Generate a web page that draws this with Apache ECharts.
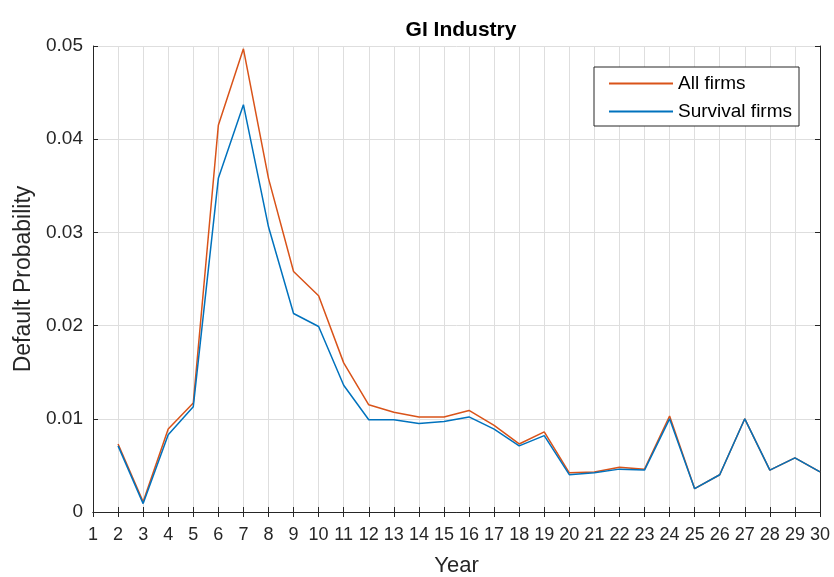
<!DOCTYPE html>
<html>
<head>
<meta charset="utf-8">
<script src="https://cdn.jsdelivr.net/npm/echarts@6/dist/echarts.min.js"></script>
<style>
html,body{margin:0;padding:0;background:#fff;}
#chart{width:834px;height:577px;}
</style>
</head>
<body>
<div id="chart"></div>
<script>
var years = [2,3,4,5,6,7,8,9,10,11,12,13,14,15,16,17,18,19,20,21,22,23,24,25,26,27,28,29,30];
var allFirms = [0.0073,0.0011,0.0089,0.0117,0.0415,0.0497,0.0358,0.0258,0.0232,0.0160,0.0115,0.0107,0.0102,0.0102,0.0109,0.0093,0.0073,0.0086,0.0042,0.0043,0.0048,0.0046,0.0103,0.0025,0.0040,0.0100,0.0045,0.0058,0.0043];
var survivalFirms = [0.0071,0.0009,0.0083,0.0113,0.0358,0.0437,0.0306,0.0213,0.0199,0.0136,0.0099,0.0099,0.0095,0.0097,0.0102,0.0089,0.0071,0.0082,0.0040,0.0042,0.0046,0.0045,0.0100,0.0025,0.0040,0.0100,0.0045,0.0058,0.0043];
var seriesNames = ['All firms','Survival firms'];
var titleText = 'GI Industry';
var xName = 'Year';
var yName = 'Default Probability';

function pairs(xs, ys){ return xs.map(function(x,i){ return [x, ys[i]]; }); }

var font = 'Liberation Sans, Arial, Helvetica, sans-serif';
var txt = '#262626';
var gridGray = '#dedede';
var axisCol = '#262626';

var chart = echarts.init(document.getElementById('chart'), null, {renderer:'canvas'});
var xBase = {
  type:'value', min:1, max:30, interval:1,
  axisLine:{show:true, lineStyle:{color:axisCol, width:1}},
  axisTick:{show:true, inside:true, length:5, lineStyle:{color:axisCol}},
  splitLine:{show:false}
};
var yBase = {
  type:'value', min:0, max:0.05, interval:0.01,
  axisLine:{show:true, lineStyle:{color:axisCol, width:1}},
  axisTick:{show:true, inside:true, length:5, lineStyle:{color:axisCol}},
  splitLine:{show:false}
};
chart.setOption({
  animation:false,
  backgroundColor:'#fff',
  title:{text:titleText, left:456, top:15, textAlign:'center',
    textStyle:{fontFamily:font, fontSize:21, fontWeight:'bold', color:'#000'}},
  grid:{left:93, right:14, top:46, bottom:65, containLabel:false, outerBoundsMode:'none'},
  legend:{
    orient:'vertical', left:594, top:67,
    itemWidth:64, itemHeight:14, itemGap:9, itemStyle:{opacity:0},
    padding:[7,7,5,14],
    borderColor:'#262626', borderWidth:1, backgroundColor:'#fff',
    textStyle:{fontFamily:font, fontSize:19, color:'#000'},
    data:seriesNames
  },
  xAxis:[
    Object.assign({}, xBase, {
      position:'bottom',
      name:xName, nameLocation:'middle', nameGap:43,
      nameTextStyle:{fontFamily:font, fontSize:22, color:txt},
      axisLabel:{fontFamily:font, fontSize:18, color:txt, margin:14},
      splitLine:{show:true, lineStyle:{color:gridGray, width:1}}
    }),
    Object.assign({}, xBase, {position:'top', axisLabel:{show:false}})
  ],
  yAxis:[
    Object.assign({}, yBase, {
      position:'left',
      name:yName, nameLocation:'middle', nameGap:57,
      nameTextStyle:{fontFamily:font, fontSize:23, color:txt},
      axisLabel:{fontFamily:font, fontSize:19, color:txt, margin:10,
        formatter:function(v){ return v===0 ? '0' : v.toFixed(2); }},
      splitLine:{show:true, lineStyle:{color:gridGray, width:1}}
    }),
    Object.assign({}, yBase, {position:'right', axisLabel:{show:false}})
  ],
  series:[
    {name:seriesNames[0], type:'line', data:pairs(years, allFirms), symbol:'none',
      lineStyle:{color:'#D95319', width:1.5}, itemStyle:{color:'#D95319'}, z:2},
    {name:seriesNames[1], type:'line', data:pairs(years, survivalFirms), symbol:'none',
      lineStyle:{color:'#0072BD', width:1.5}, itemStyle:{color:'#0072BD'}, z:3}
  ]
});
</script>
</body>
</html>
